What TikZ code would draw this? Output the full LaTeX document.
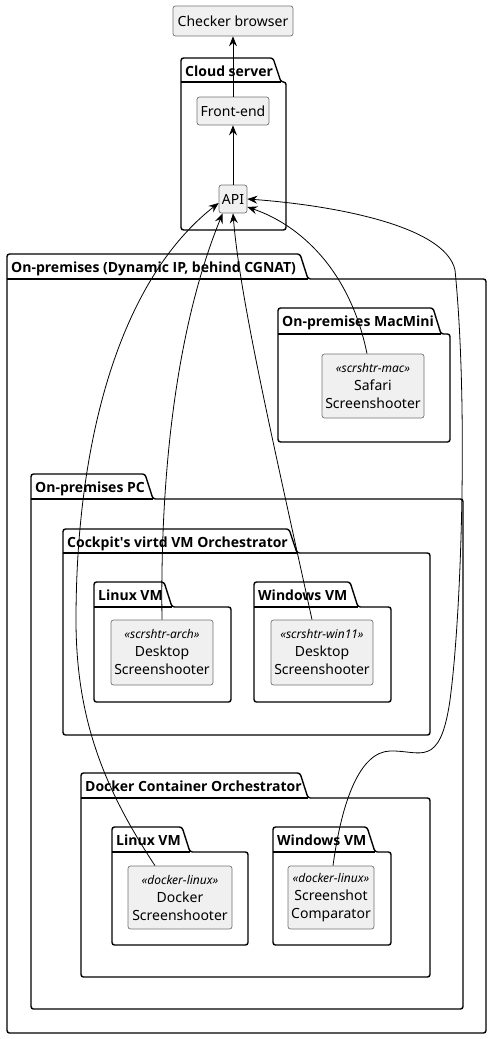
\documentclass[tikz,border=0pt]{standalone}
\usepackage{fontspec}
\setmainfont{Noto Sans}
\newfontfamily\pkgfont{Open Sans}
\usetikzlibrary{arrows.meta}

\newcommand{\stereo}[1]{{\fontsize{12}{14}\selectfont\itshape «#1»}}
% package outline: x1, y tab, y body, x2, y2, tab right, label
\newcommand{\pkgbox}[7]{%
    \draw[pkgline] (#1,#3) -- (#1,#2) -- (#6,#2) -- ({#6+8},#3) -- (#4,#3) -- (#4,#5) -- (#1,#5) -- cycle;
    \draw[pkgline] (#1,#3) -- ({#6+8},#3);
    \node[pkglabel] at ({#1+4},{#2+18}) {#7};
}

\begin{document}
\begin{tikzpicture}[x=1pt,y=-1pt,
    pkgline/.style={line width=1.4pt, rounded corners=2.5pt},
    pkglabel/.style={anchor=base west, inner sep=0pt, font=\pkgfont\bfseries\fontsize{14}{16}\selectfont},
    comp/.style={draw=black!55, fill=black!6, rounded corners=2.5pt, line width=0.7pt,
        align=center, inner sep=0pt, font=\fontsize{14}{18}\selectfont},
    link/.style={line width=0.8pt, -{Stealth[length=10pt,width=8pt,inset=3.5pt]}},
]
    \useasboundingbox (0,0) rectangle (492,1039);

    \pkgbox{181}{58}{82}{286}{230}{273}{Cloud server}
    \pkgbox{7}{254}{279}{486}{1033}{300}{On-premises (Dynamic IP, behind CGNAT)}
    \pkgbox{278}{308}{334}{450}{442}{433}{On-premises MacMini}
    \pkgbox{31}{474}{499}{463}{1009}{145}{On-premises PC}
    \pkgbox{63}{529}{553}{430}{735}{289}{Cockpit\textquotesingle s virtd VM Orchestrator}
    \pkgbox{94}{582}{607}{231}{702}{164}{Linux VM}
    \pkgbox{254}{582}{607}{391}{702}{350}{Windows VM}
    \pkgbox{81}{773}{798}{430}{977}{300}{Docker Container Orchestrator}
    \pkgbox{112}{827}{852}{248}{945}{182}{Linux VM}
    \pkgbox{273}{827}{852}{391}{945}{367}{Windows VM}

    \node[comp, minimum width=120pt, minimum height=30pt] (browser) at (233,21) {Checker browser};
    \node[comp, minimum width=72pt, minimum height=28pt] (frontend) at (233,111) {Front-end};
    \node[comp, minimum width=28pt, minimum height=28pt] (api) at (233,199) {API};
    \node[comp, minimum width=102pt, minimum height=64pt] (safari) at (373,386) {\stereo{scrshtr-mac}\\Safari\\Screenshooter};
    \node[comp, minimum width=102pt, minimum height=65pt] (arch) at (162,652.5) {\stereo{scrshtr-arch}\\Desktop\\Screenshooter};
    \node[comp, minimum width=102pt, minimum height=65pt] (win) at (322,652.5) {\stereo{scrshtr-win11}\\Desktop\\Screenshooter};
    \node[comp, minimum width=104pt, minimum height=63pt] (docker) at (180,897.5) {\stereo{docker-linux}\\Docker\\Screenshooter};
    \node[comp, minimum width=86pt, minimum height=63pt] (compare) at (331,897.5) {\stereo{docker-linux}\\Screenshot\\Comparator};

    \draw[link] (frontend) -- (browser);
    \draw[link] (api) -- (frontend);
    \draw[link] ([xshift=-6pt]safari.north) .. controls (350,270) and (300,225) .. ([yshift=-8pt]api.east);
    \draw[link] (arch.north) .. controls (160,480) and (175,330) .. ([xshift=4pt]api.south west);
    \draw[link] ([xshift=-10pt]win.north) .. controls (275,450) and (240,300) .. (api.south);
    \draw[link] ([xshift=-25pt]docker.north) .. controls (105,790) and (76,720) .. (76,620)
        .. controls (76,440) and (120,280) .. ([yshift=-4pt]api.west);
    \draw[link] ([xshift=2pt]compare.north) .. controls (342,800) and (360,752) .. (390,751)
        .. controls (420,750) and (440,770) .. (450,700)
        .. controls (462,610) and (468,400) .. (455,270)
        .. controls (445,225) and (330,205) .. (api.east);
\end{tikzpicture}
\end{document}
